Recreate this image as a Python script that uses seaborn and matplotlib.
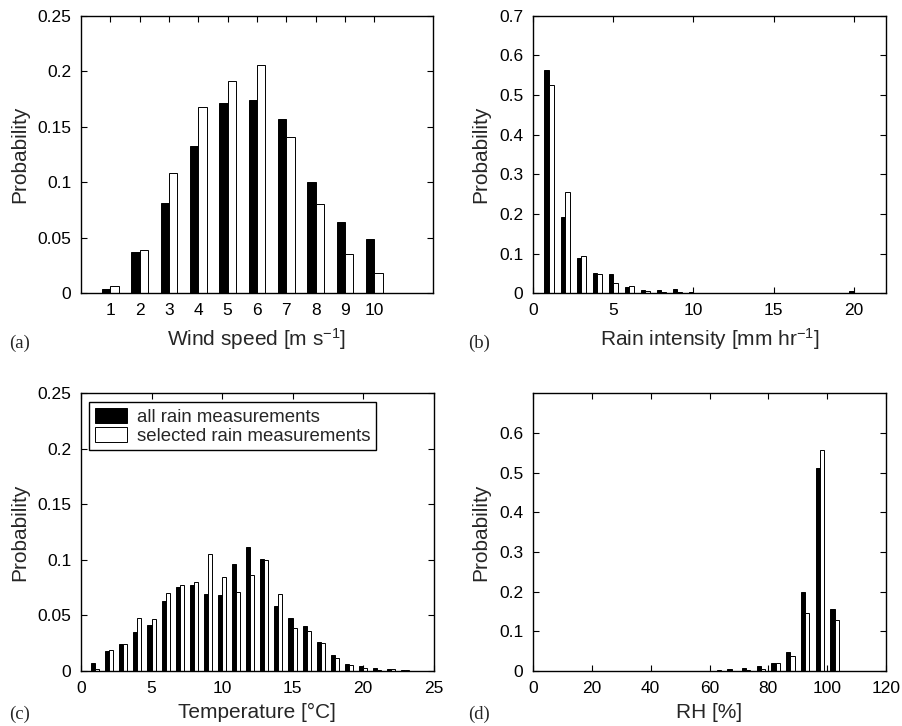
import numpy as np
import pandas as pd
import matplotlib
matplotlib.use("Agg")
import matplotlib.pyplot as plt
import seaborn as sns
from matplotlib.patches import Patch
from matplotlib.ticker import FuncFormatter

# ---------------- data ----------------
wind_speed = [1, 2, 3, 4, 5, 6, 7, 8, 9, 10]
wind_all = [0.004, 0.037, 0.081, 0.133, 0.171, 0.174, 0.157, 0.100, 0.064, 0.049]
wind_sel = [0.007, 0.039, 0.108, 0.168, 0.191, 0.206, 0.141, 0.080, 0.035, 0.018]

rain_int = list(range(1, 21))
rain_all = [0.562, 0.193, 0.088, 0.050, 0.049, 0.015, 0.009, 0.0076, 0.011, 0.003,
            0.002, 0.002, 0.002, 0.002, 0.0015, 0.0015, 0.001, 0.001, 0.001, 0.006]
rain_sel = [0.525, 0.256, 0.094, 0.048, 0.027, 0.019, 0.007, 0.004, 0.003, 0.002,
            0.001, 0.001, 0.001, 0.001, 0.001, 0.001, 0.001, 0.001, 0.001, 0.001]

temp = list(range(1, 24))
temp_all = [0.0075, 0.018, 0.0243, 0.0354, 0.0417, 0.0633, 0.0756, 0.0774, 0.0696, 0.0684,
            0.0963, 0.1116, 0.1008, 0.0588, 0.0477, 0.0405, 0.0261, 0.0144, 0.0063, 0.0045,
            0.0027, 0.0015, 0.0005]
temp_sel = [0.0015, 0.0192, 0.0243, 0.0474, 0.0468, 0.0699, 0.0771, 0.0798, 0.1053, 0.0846,
            0.0708, 0.0861, 0.0999, 0.0696, 0.0384, 0.0363, 0.0252, 0.0114, 0.0051, 0.0030,
            0.0012, 0.0015, 0.0005]

rh = [57.5, 62.5, 67.5, 72.5, 77.5, 82.5, 87.5, 92.5, 97.5, 102.5]
rh_all = [0.0005, 0.001, 0.004, 0.0065, 0.0125, 0.020, 0.047, 0.199, 0.511, 0.156]
rh_sel = [0.0005, 0.002, 0.001, 0.002, 0.006, 0.021, 0.037, 0.145, 0.556, 0.129]

series_names = ["all rain measurements", "selected rain measurements"]
panel_letters = ["(a)", "(b)", "(c)", "(d)"]
xlabels = ["Wind speed [m s$^{-1}$]", "Rain intensity [mm hr$^{-1}$]",
           "Temperature [\u00b0C]", "RH [%]"]

# ---------------- style ----------------
sns.set_theme(style="ticks")
plt.rcParams["font.family"] = ["Liberation Sans", "DejaVu Sans"]
plt.rcParams["mathtext.fontset"] = "custom"
plt.rcParams["mathtext.rm"] = "Liberation Sans"
plt.rcParams["mathtext.it"] = "Liberation Sans:italic"
plt.rcParams["mathtext.bf"] = "Liberation Sans:bold"
plt.rcParams["axes.linewidth"] = 1.0

fig = plt.figure(figsize=(9.02, 7.26), dpi=100)
W, H = 902, 726


def make_ax(l, t, r, b):
    return fig.add_axes([l / W, 1 - b / H, (r - l) / W, (b - t) / H])


ax_a = make_ax(81, 15.7, 433, 293.3)
ax_b = make_ax(533, 15.7, 886, 293.3)
ax_c = make_ax(81, 393.3, 433.5, 671)
ax_d = make_ax(533, 393.3, 886, 671)

panels = [
    (ax_a, wind_speed, wind_all, wind_sel),
    (ax_b, rain_int, rain_all, rain_sel),
    (ax_c, temp, temp_all, temp_sel),
    (ax_d, rh, rh_all, rh_sel),
]

for ax, xs, a, s in panels:
    df = pd.DataFrame({
        "x": list(xs) + list(xs),
        "p": list(a) + list(s),
        "series": [series_names[0]] * len(xs) + [series_names[1]] * len(xs),
    })
    sns.barplot(data=df, x="x", y="p", hue="series", hue_order=series_names,
                palette=["black", "white"], native_scale=True, width=0.572,
                dodge=True, edgecolor="black", linewidth=0.7, errorbar=None,
                legend=False, ax=ax, saturation=1)

fmt = FuncFormatter(lambda v, pos: f"{v:g}")

# limits and ticks
ax_a.set_xlim(0, 12); ax_a.set_xticks(wind_speed)
ax_a.set_ylim(0, 0.25); ax_a.set_yticks(np.arange(0, 0.2501, 0.05))
ax_b.set_xlim(0, 22); ax_b.set_xticks([0, 5, 10, 15, 20])
ax_b.set_ylim(0, 0.7); ax_b.set_yticks(np.arange(0, 0.7001, 0.1))
ax_c.set_xlim(0, 25); ax_c.set_xticks([0, 5, 10, 15, 20, 25])
ax_c.set_ylim(0, 0.25); ax_c.set_yticks(np.arange(0, 0.2501, 0.05))
ax_d.set_xlim(0, 120); ax_d.set_xticks([0, 20, 40, 60, 80, 100, 120])
ax_d.set_ylim(0, 0.7); ax_d.set_yticks(np.arange(0, 0.6001, 0.1))

label_pads = [6, 6, 5, 5]
for ax, xl, lp in zip([ax_a, ax_b, ax_c, ax_d], xlabels, label_pads):
    ax.yaxis.set_major_formatter(fmt)
    ax.xaxis.set_major_formatter(fmt)
    ax.tick_params(direction="in", top=True, right=True, length=4, width=0.8,
                   labelsize=12.5, colors="black", pad=7)
    for sp in ax.spines.values():
        sp.set_visible(True)
        sp.set_color("black")
        sp.set_linewidth(1.0)
    ax.set_xlabel(xl, fontsize=15, labelpad=lp)
    ax.set_ylabel("Probability", fontsize=15, labelpad=6)
    ax.set_facecolor("white")

# legend in panel (c)
handles = [Patch(facecolor="black", edgecolor="black", linewidth=0.7),
           Patch(facecolor="white", edgecolor="black", linewidth=0.7)]
leg = ax_c.legend(handles, series_names, loc="upper left",
                  bbox_to_anchor=(8 / 352.5, 1 - 9 / 277.7), borderaxespad=0,
                  fontsize=13.4, frameon=True, fancybox=False, framealpha=1,
                  edgecolor="black", handlelength=1.75, handleheight=0.85,
                  handletextpad=0.55, labelspacing=0.05, borderpad=0.3)
leg.get_frame().set_linewidth(1.0)

# panel letters
letter_kw = dict(family="Liberation Serif", fontsize=13.5, va="baseline")
fig.text(9 / W, 1 - 348 / H, panel_letters[0], **letter_kw)
fig.text(468 / W, 1 - 348 / H, panel_letters[1], **letter_kw)
fig.text(9 / W, 1 - 719 / H, panel_letters[2], **letter_kw)
fig.text(468 / W, 1 - 719 / H, panel_letters[3], **letter_kw)

fig.patch.set_facecolor("white")
fig.savefig("out.png", dpi=100, facecolor="white")
